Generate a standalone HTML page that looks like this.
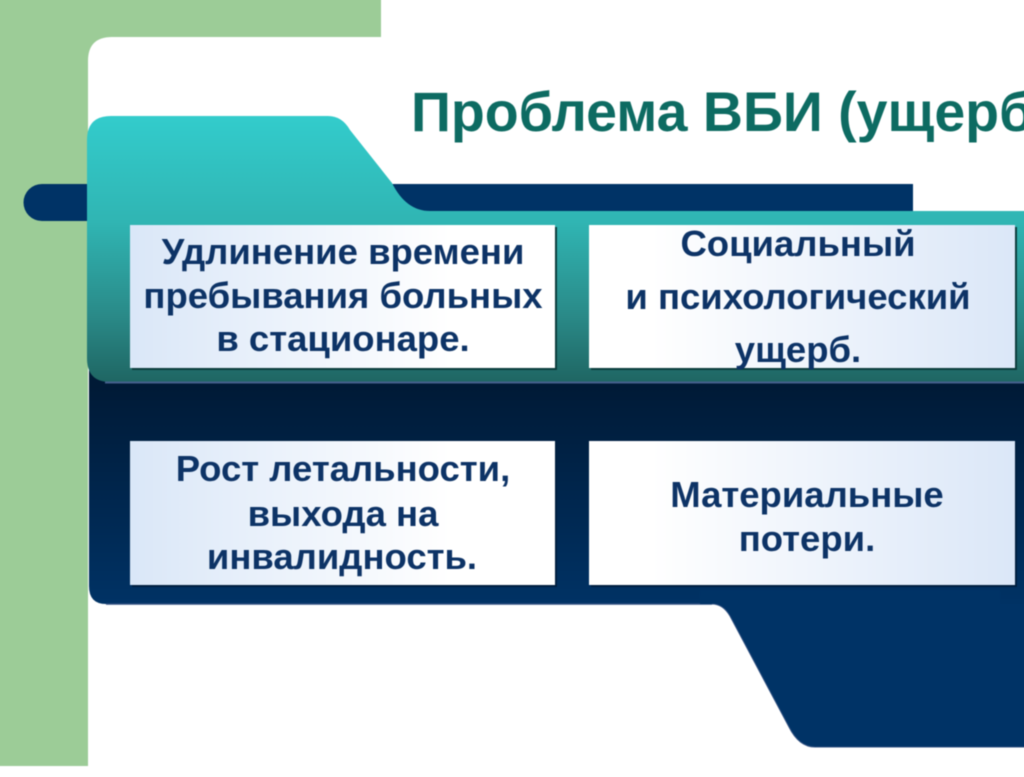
<!DOCTYPE html>
<html lang="ru">
<head>
<meta charset="utf-8">
<title>Проблема ВБИ</title>
<style>
html,body{margin:0;padding:0;background:#fff;width:1024px;height:767px;overflow:hidden}
svg{display:block;position:absolute;left:-10px;top:-10px;filter:blur(.5px)}
text{font-family:"Liberation Sans","Noto Sans CJK SC",sans-serif;font-weight:bold;text-anchor:middle;fill:#0d3366;font-size:36.500px}
</style>
</head>
<body>
<svg width="1044" height="787" viewBox="-10 -10 1044 787" xmlns="http://www.w3.org/2000/svg">
<defs>
<linearGradient id="teal" x1="0" y1="116" x2="0" y2="382" gradientUnits="userSpaceOnUse">
<stop offset="0" stop-color="#33cccc"/>
<stop offset=".4" stop-color="#30b5b3"/>
<stop offset=".75" stop-color="#2a8a88"/>
<stop offset="1" stop-color="#1f6663"/>
</linearGradient>
<linearGradient id="navy" x1="0" y1="384" x2="0" y2="610" gradientUnits="userSpaceOnUse">
<stop offset="0" stop-color="#001a36"/>
<stop offset="1" stop-color="#003366"/>
</linearGradient>
<linearGradient id="bl" x1="0" y1="0" x2="1" y2="0">
<stop offset="0" stop-color="#dae7f8"/>
<stop offset=".75" stop-color="#fff"/>
<stop offset="1" stop-color="#fff"/>
</linearGradient>
<linearGradient id="br" x1="0" y1="0" x2="1" y2="0">
<stop offset="0" stop-color="#fff"/>
<stop offset=".15" stop-color="#fff"/>
<stop offset="1" stop-color="#dbe7f8"/>
</linearGradient>
</defs>

<rect x="-10" y="-10" width="1044" height="787" fill="#fff"/>
<path d="M-10 -10H381V37H112Q88 37 88 61V766H-10Z" fill="#9ccc97"/>

<path d="M42 184H913V211H440V221H42A18.500 18.500 0 0 1 42 184Z" fill="#003366"/>

<path d="M89 370H1034V604H106Q89 604 89 586Z" fill="url(#navy)"/>
<path d="M106 604H712" fill="none" stroke="#2f4f80" stroke-width="1.500"/>
<path d="M700 604H712Q723 604 730 616L789 727Q799 747 815 747H1034V590H700Z" fill="#003366"/>
<path d="M712 604Q723 604 730 616L789 727Q799 747 815 747H1034" fill="none" stroke="#2f4f80" stroke-width="1"/>
<rect x="1000" y="384" width="34" height="220" fill="url(#navy)"/>

<path d="M87 140Q87 116 111 116H328Q342 116 350 130L392 183Q406 211 430 211H1034V382H110Q87 382 87 358Z" fill="url(#teal)"/>
<rect x="105" y="381.500" width="929" height="2" fill="#44608c"/>

<rect x="132" y="227" width="425" height="143" fill="#0c3d3d"/>
<rect x="591" y="227" width="426" height="143" fill="#0c3d3d"/>
<rect x="130" y="225" width="425" height="143" fill="url(#bl)"/>
<rect x="589" y="225" width="426" height="143" fill="url(#br)"/>
<rect x="132" y="443" width="425" height="144" fill="#001f40"/>
<rect x="591" y="443" width="426" height="144" fill="#001f40"/>
<rect x="130" y="441" width="425" height="144" fill="url(#bl)"/>
<rect x="589" y="441" width="426" height="144" fill="url(#br)"/>

<text x="411" y="131" style="text-anchor:start;font-size:55.500px;fill:#0d6b62">Проблема ВБИ (ущерб)</text>

<text x="343" y="264">Удлинение времени</text>
<text x="343" y="308">пребывания больных</text>
<text x="343" y="351">в стационаре.</text>

<text x="798" y="256">Социальный</text>
<text x="798" y="309">и психологический</text>
<text x="798" y="362">ущерб.</text>

<text x="343" y="481">Рост летальности,</text>
<text x="343" y="526">выхода на</text>
<text x="342" y="569">инвалидность.</text>

<text x="807" y="507">Материальные</text>
<text x="807" y="551">потери.</text>
</svg>
</body>
</html>
